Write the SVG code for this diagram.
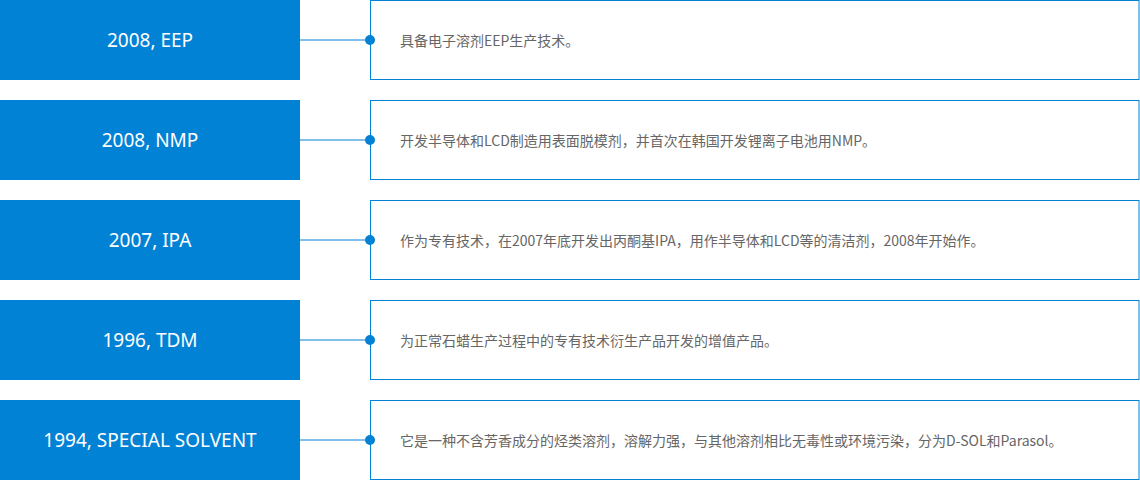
<svg xmlns="http://www.w3.org/2000/svg" width="1140" height="480" viewBox="0 0 1140 480">
<style>
.tag{fill:#0282d5}
.tagt{fill:#fff;font-family:"Noto Sans","Noto Sans CJK SC",sans-serif;font-size:19px;text-anchor:middle;dominant-baseline:central}
.box{fill:#fff;stroke:#0282d5;stroke-width:1}
.desc{fill:#666;font-family:"Noto Sans CJK SC","Noto Sans",sans-serif;font-size:14px;dominant-baseline:central}
.ln{stroke:#0282d5;stroke-width:1}
.dot{fill:#0282d5}
</style>
<g id="connectors">
<line class="ln" x1="300" y1="40" x2="370" y2="40"/>
<line class="ln" x1="300" y1="140" x2="370" y2="140"/>
<line class="ln" x1="300" y1="240" x2="370" y2="240"/>
<line class="ln" x1="300" y1="340" x2="370" y2="340"/>
<line class="ln" x1="300" y1="440" x2="370" y2="440"/>
</g>
<g id="row1">
<rect class="tag" x="0" y="0" width="300" height="80"/>
<text class="tagt" x="150" y="40">2008, EEP</text>
<rect class="box" x="370.5" y="0.5" width="768.5" height="79"/>
<text class="desc" x="400" y="40">具备电子溶剂EEP生产技术。</text>
</g>
<g id="row2">
<rect class="tag" x="0" y="100" width="300" height="80"/>
<text class="tagt" x="150" y="140">2008, NMP</text>
<rect class="box" x="370.5" y="100.5" width="768.5" height="79"/>
<text class="desc" x="400" y="140">开发半导体和LCD制造用表面脱模剂，并首次在韩国开发锂离子电池用NMP。</text>
</g>
<g id="row3">
<rect class="tag" x="0" y="200" width="300" height="80"/>
<text class="tagt" x="150" y="240">2007, IPA</text>
<rect class="box" x="370.5" y="200.5" width="768.5" height="79"/>
<text class="desc" x="400" y="240">作为专有技术，在2007年底开发出丙酮基IPA，用作半导体和LCD等的清洁剂，2008年开始作。</text>
</g>
<g id="row4">
<rect class="tag" x="0" y="300" width="300" height="80"/>
<text class="tagt" x="150" y="340">1996, TDM</text>
<rect class="box" x="370.5" y="300.5" width="768.5" height="79"/>
<text class="desc" x="400" y="340">为正常石蜡生产过程中的专有技术衍生产品开发的增值产品。</text>
</g>
<g id="row5">
<rect class="tag" x="0" y="400" width="300" height="80"/>
<text class="tagt" x="150" y="440">1994, SPECIAL SOLVENT</text>
<rect class="box" x="370.5" y="400.5" width="768.5" height="79"/>
<text class="desc" x="400" y="440">它是一种不含芳香成分的烃类溶剂，溶解力强，与其他溶剂相比无毒性或环境污染，分为D-SOL和Parasol。</text>
</g>
<g id="dots">
<circle class="dot" cx="370" cy="40" r="5"/>
<circle class="dot" cx="370" cy="140" r="5"/>
<circle class="dot" cx="370" cy="240" r="5"/>
<circle class="dot" cx="370" cy="340" r="5"/>
<circle class="dot" cx="370" cy="440" r="5"/>
</g>
</svg>
